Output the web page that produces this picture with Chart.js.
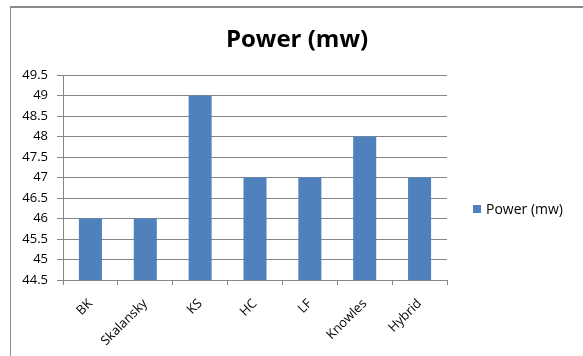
<!DOCTYPE html>
<html>
<head>
<meta charset="utf-8">
<script src="https://cdn.jsdelivr.net/npm/chart.js@4.4.1/dist/chart.umd.min.js"></script>
<style>
  html, body { margin: 0; padding: 0; background: #fff; }
  #wrap { position: relative; width: 583px; height: 356px; }
  #frame {
    position: absolute; left: 10px; top: 6px; width: 600px; height: 400px;
    border-left: 1px solid #8a8a8a; border-top: 2px solid #8a8a8a;
    pointer-events: none;
  }
</style>
</head>
<body>
<div id="wrap">
  <canvas id="chart" width="583" height="356"></canvas>
  <div id="frame"></div>
</div>
<script>
// data
const categories = ["BK", "Skalansky", "KS", "HC", "LF", "Knowles", "Hybrid"];
const powerValues = [46, 46, 49, 47, 47, 48, 47];
const seriesName = "Power (mw)";
const chartTitle = "Power (mw)";
const yMin = 44.5, yMax = 49.5, yStep = 0.5;

const FONT = "'Open Sans', 'Liberation Sans', sans-serif";

// Excel-style title (centred on the whole frame) and legend at the right
const excelDecor = {
  id: "excelDecor",
  afterDraw(chart) {
    const ctx = chart.ctx;
    const ds = chart.data.datasets[0];
    ctx.save();
    ctx.fillStyle = "#000";
    ctx.font = "bold 24px " + FONT;
    ctx.textAlign = "center";
    ctx.textBaseline = "middle";
    ctx.fillText(chartTitle, 297, 40);

    ctx.textAlign = "left";
    ctx.fillStyle = ds.backgroundColor;
    ctx.fillRect(473, 205, 8, 8);
    ctx.fillStyle = "#000";
    ctx.font = "14px " + FONT;
    ctx.fillText(ds.label, 486, 210);
    ctx.restore();
  }
};

new Chart(document.getElementById("chart"), {
  type: "bar",
  data: {
    labels: categories,
    datasets: [{
      label: seriesName,
      data: powerValues,
      backgroundColor: "#4F81BD",
      borderWidth: 0,
      barPercentage: 0.42,
      categoryPercentage: 1.0
    }]
  },
  options: {
    responsive: false,
    animation: false,
    layout: { padding: { left: 10, right: 136, top: 75, bottom: 0 } },
    plugins: {
      legend: { display: false },
      tooltip: { enabled: false },
      title: { display: false }
    },
    scales: {
      x: {
        offset: true,
        grid: {
          offset: true,
          drawOnChartArea: false,
          drawTicks: true,
          tickLength: 5,
          color: "#868686"
        },
        border: { color: "#868686" },
        ticks: {
          color: "#000",
          font: { family: FONT, size: 13 },
          maxRotation: 45,
          minRotation: 45,
          padding: 11
        },
        afterFit(scale) { scale.height = 76; }
      },
      y: {
        min: yMin,
        max: yMax,
        grid: { color: "#868686", tickLength: 6 },
        border: { color: "#868686" },
        ticks: {
          stepSize: yStep,
          color: "#000",
          font: { family: FONT, size: 13 },
          padding: 9,
          callback: (v) => String(v)
        },
        afterFit(scale) { scale.width = 53; }
      }
    }
  },
  plugins: [excelDecor]
});
</script>
</body>
</html>
